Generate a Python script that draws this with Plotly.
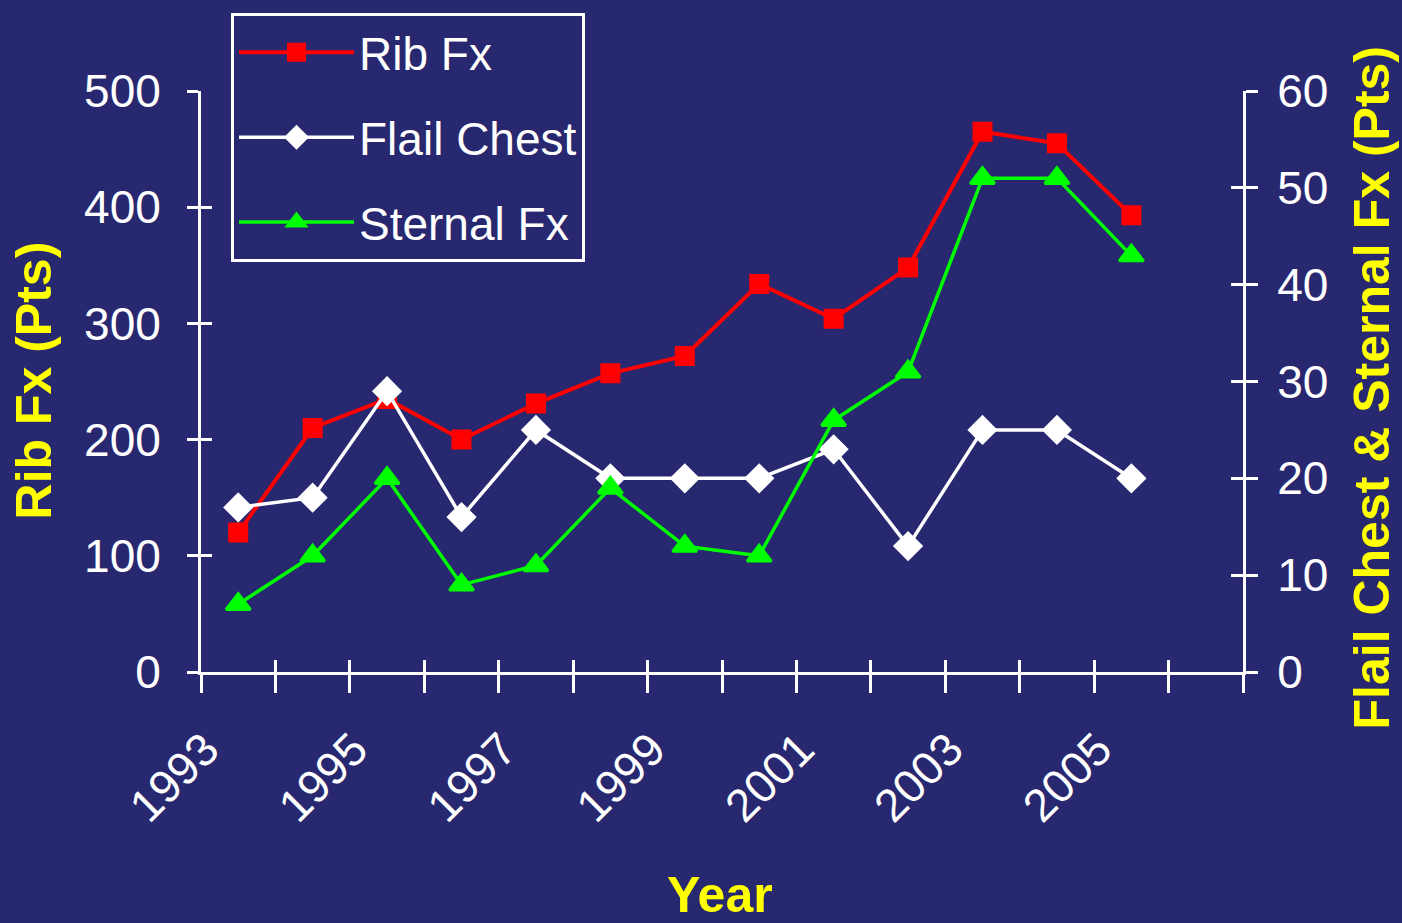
import plotly.graph_objects as go

# Fracture counts by year
years = [1993, 1994, 1995, 1996, 1997, 1998, 1999, 2000, 2001, 2002, 2003, 2004, 2005]
rib_fx = [120, 210, 235, 200, 231, 257, 272, 334, 304, 348, 465, 455, 393]
flail_chest = [17, 18, 29, 16, 25, 20, 20, 20, 23, 13, 25, 25, 20]
sternal_fx = [7, 12, 20, 9, 11, 19, 13, 12, 26, 31, 51, 51, 43]

label_years = [1993, 1995, 1997, 1999, 2001, 2003, 2005]
boundaries = [y - 0.5 for y in range(1993, 2008)]
x_range = [1992.5, 2006.5]

BG = "#282870"
FONT = "Liberation Sans, Arial, sans-serif"
YELLOW = "#FFFF00"

fig = go.Figure()

# marker outlines in the fill colour keep legend symbols large as well
fig.add_trace(go.Scatter(
    x=years, y=rib_fx, name="Rib Fx", legendgroup="a",
    mode="lines+markers",
    line=dict(color="#FF0000", width=4),
    marker=dict(symbol="square", size=17, color="#FF0000",
                line=dict(color="#FF0000", width=3)),
    xaxis="x", yaxis="y",
))
fig.add_trace(go.Scatter(
    x=years, y=flail_chest, name="Flail Chest", legendgroup="b",
    mode="lines+markers",
    line=dict(color="#FFFFFF", width=3.5),
    marker=dict(symbol="diamond", size=20, color="#FFFFFF",
                line=dict(color="#FFFFFF", width=3)),
    xaxis="x", yaxis="y2",
))
fig.add_trace(go.Scatter(
    x=years, y=sternal_fx, name="Sternal Fx", legendgroup="c",
    mode="lines+markers",
    line=dict(color="#00FF00", width=3.5),
    marker=dict(symbol="triangle-up", size=21, color="#00FF00",
                line=dict(color="#00FF00", width=3)),
    xaxis="x", yaxis="y2",
))

# Transparent carriers so the overlay axes (inner tick halves, year labels) get drawn
fig.add_trace(go.Scatter(
    x=years, y=rib_fx, xaxis="x2", yaxis="y3", mode="markers",
    marker=dict(opacity=0), showlegend=False, hoverinfo="skip",
))
fig.add_trace(go.Scatter(
    x=years, y=flail_chest, xaxis="x3", yaxis="y4", mode="markers",
    marker=dict(opacity=0), showlegend=False, hoverinfo="skip",
))

axis_common = dict(showgrid=False, zeroline=False, tickcolor="white", tickwidth=3)
tick_font = dict(family=FONT, size=46, color="white")

fig.update_layout(
    width=1402, height=923,
    margin=dict(l=201, r=159, t=91, b=251, pad=0, autoexpand=False),
    paper_bgcolor=BG, plot_bgcolor=BG,
    showlegend=True,
    legend=dict(
        x=0.0288, y=1.1343, xanchor="left", yanchor="top",
        bgcolor=BG, bordercolor="white", borderwidth=3,
        font=dict(family=FONT, size=46, color="white"),
        tracegroupgap=22, traceorder="grouped",
        itemwidth=115,
    ),
    xaxis=dict(
        range=x_range, tickmode="array", tickvals=boundaries,
        showticklabels=False, ticks="outside", ticklen=18,
        showline=True, linecolor="white", linewidth=3, anchor="y",
        **axis_common,
    ),
    xaxis2=dict(
        range=x_range, overlaying="x", anchor="y", side="bottom",
        tickmode="array", tickvals=boundaries, showticklabels=False,
        ticks="inside", ticklen=12, showline=False, **axis_common,
    ),
    xaxis3=dict(
        range=x_range, overlaying="x", anchor="y", side="bottom",
        tickmode="array", tickvals=label_years,
        ticktext=[str(y) for y in label_years],
        ticks="", tickangle=-45, tickfont=tick_font,
        ticklabelstandoff=40, ticklabelshift=-33, showline=False,
        showgrid=False, zeroline=False,
    ),
    yaxis=dict(
        range=[0, 500], tickmode="linear", tick0=0, dtick=100,
        ticks="outside", ticklen=11, tickfont=tick_font,
        ticklabelstandoff=17,
        showline=True, linecolor="white", linewidth=3, anchor="x",
        **axis_common,
    ),
    yaxis2=dict(
        range=[0, 60], tickmode="linear", tick0=0, dtick=10,
        overlaying="y", side="right", anchor="x",
        ticks="outside", ticklen=12, tickfont=tick_font,
        ticklabelstandoff=10,
        showline=True, linecolor="white", linewidth=3,
        **axis_common,
    ),
    yaxis3=dict(
        range=[0, 500], tickmode="linear", tick0=0, dtick=100,
        overlaying="y", side="left", anchor="x",
        ticks="inside", ticklen=11, showticklabels=False, showline=False,
        **axis_common,
    ),
    yaxis4=dict(
        range=[0, 60], tickmode="linear", tick0=0, dtick=10,
        overlaying="y", side="right", anchor="x",
        ticks="inside", ticklen=12, showticklabels=False, showline=False,
        **axis_common,
    ),
)

title_font = dict(family=FONT, size=50, color=YELLOW)
fig.add_annotation(
    text="<b>Rib Fx (Pts)</b>", textangle=-90, font=title_font,
    xref="paper", yref="paper", x=-0.1598, y=0.5026,
    xanchor="center", yanchor="middle", showarrow=False,
)
fig.add_annotation(
    text="<b>Flail Chest &amp; Sternal Fx (Pts)</b>", textangle=-90, font=title_font,
    xref="paper", yref="paper", x=1.1238, y=0.4897,
    xanchor="center", yanchor="middle", showarrow=False,
)
fig.add_annotation(
    text="<b>Year</b>", font=title_font,
    xref="paper", yref="paper", x=0.498, y=-0.384,
    xanchor="center", yanchor="middle", showarrow=False,
)

fig.write_html("out.html")
